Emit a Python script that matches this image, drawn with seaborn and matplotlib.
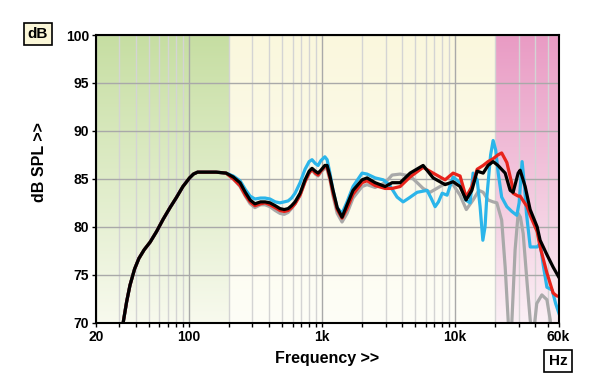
import numpy as np
import pandas as pd
import matplotlib
matplotlib.use("Agg")
import matplotlib.pyplot as plt
import seaborn as sns
from matplotlib.ticker import FixedLocator, NullFormatter

# -----------------------------
# Data
# -----------------------------
# bass roll-off is the same for all four curves
shared_freq = [30, 32, 34, 36, 39, 42, 46, 51, 57, 64, 72, 80, 90, 101, 108, 116, 130, 160, 190]
shared_spl = [68.3, 70.0, 72.2, 73.9, 75.6, 76.7, 77.6, 78.4, 79.5, 80.8, 82.0, 83.0, 84.2,
              85.1, 85.5, 85.7, 85.7, 85.7, 85.6]

black_freq = [215, 242, 265, 288, 313, 345, 373, 406, 445, 483, 520, 556, 590, 627, 684, 745,
              800, 841, 890, 934, 980, 1050, 1092, 1150, 1210, 1300, 1414, 1542, 1710, 2000,
              2180, 2506, 2980, 3364, 3866, 4592, 5752, 6840, 8410, 9660, 10900, 12100, 13370,
              14650, 16260, 17700, 19320, 21000, 23800, 25940, 27300, 29800, 30840, 33640,
              36660, 41400, 43580, 49000, 54560, 61660]
black_spl = [85.2, 84.6, 83.6, 82.8, 82.4, 82.6, 82.6, 82.5, 82.2, 81.9, 81.8, 81.9, 82.2, 82.6,
             83.5, 84.9, 85.8, 86.1, 85.8, 85.6, 85.9, 86.4, 86.4, 85.2, 83.8, 82.0, 81.0, 82.3,
             83.8, 84.9, 85.1, 84.6, 84.2, 84.6, 84.6, 85.6, 86.4, 85.1, 84.4, 84.7, 84.2, 82.8,
             83.8, 85.8, 85.6, 86.4, 86.8, 86.4, 85.6, 83.8, 83.6, 85.6, 85.9, 84.2, 81.8, 80.0,
             78.6, 77.1, 75.8, 74.5]

red_freq = [215, 242, 265, 288, 313, 345, 373, 406, 445, 483, 520, 556, 590, 627, 684, 745,
            800, 841, 890, 934, 980, 1050, 1092, 1150, 1210, 1300, 1414, 1542, 1710, 2000,
            2180, 2506, 2980, 3364, 3866, 4592, 5752, 6840, 8410, 9660, 10900, 12100, 13370,
            14650, 16260, 17700, 19320, 21000, 22400, 24500, 26700, 27300, 29800, 30840,
            33640, 34800, 36660, 41400, 43580, 49000, 54560, 58000, 61660]
red_spl = [85.0, 84.3, 83.3, 82.6, 82.2, 82.4, 82.5, 82.3, 82.0, 81.7, 81.6, 81.7, 82.0, 82.4,
           83.3, 84.7, 85.6, 86.0, 85.6, 85.4, 85.8, 86.3, 86.2, 85.0, 83.5, 81.8, 80.9, 81.9,
           83.4, 84.6, 84.8, 84.3, 84.0, 84.0, 84.2, 85.2, 86.2, 85.6, 84.9, 85.6, 85.3, 83.1,
           84.2, 86.0, 86.4, 86.8, 87.1, 87.5, 87.7, 86.7, 84.5, 83.5, 83.2, 83.2, 82.4, 82.1,
           81.2, 79.5, 77.9, 75.2, 73.1, 72.8, 72.7]

gray_freq = [215, 242, 265, 288, 313, 345, 373, 406, 445, 483, 520, 556, 590, 627, 684, 745,
             800, 841, 890, 934, 980, 1050, 1092, 1150, 1210, 1300, 1414, 1542, 1710, 2000,
             2180, 2506, 2980, 3364, 3866, 4592, 5190, 5752, 6490, 7710, 8410, 9660, 10900,
             12150, 13660, 15100, 16260, 17700, 19320, 20600, 22400, 23800, 25060, 25900,
             26700, 28260, 29800, 31000, 32500, 34800, 36700, 38000, 39000, 41100, 44900,
             49000, 51900, 54000]
gray_spl = [85.0, 84.2, 83.2, 82.4, 82.0, 82.3, 82.3, 82.1, 81.7, 81.4, 81.3, 81.5, 81.9, 82.4,
            83.3, 84.7, 85.6, 85.9, 85.5, 85.3, 85.7, 86.1, 86.0, 84.8, 83.2, 81.4, 80.5, 81.4,
            83.0, 84.2, 84.4, 84.1, 84.6, 85.4, 85.5, 85.3, 84.6, 84.0, 83.6, 84.2, 84.5, 84.4,
            83.3, 81.8, 82.8, 83.8, 83.6, 82.8, 82.6, 82.5, 80.7, 75.8, 70.3, 66.5, 70.0, 77.6,
            81.4, 81.0, 79.3, 74.1, 70.3, 68.5, 69.0, 72.0, 72.9, 72.4, 70.3, 67.0]

blue_freq = [215, 242, 265, 288, 313, 345, 373, 406, 445, 483, 520, 556, 590, 627, 684, 745,
             800, 841, 890, 934, 980, 1050, 1092, 1150, 1210, 1300, 1414, 1542, 1710, 2000,
             2180, 2506, 2880, 3200, 3666, 4070, 4500, 5190, 6160, 6600, 7080, 7500, 8000,
             8710, 9660, 10900, 12000, 12970, 13660, 14650, 15420, 16170, 16800, 17300, 18500,
             19320, 20200, 21100, 22400, 24500, 26700, 29100, 30300, 31900, 33300, 34400,
             36700, 41400, 43600, 46000, 49000, 53700, 57000, 61660]
blue_spl = [85.3, 84.8, 83.9, 83.2, 82.9, 83.0, 83.0, 82.9, 82.6, 82.5, 82.6, 82.7, 83.0, 83.5,
            84.6, 86.0, 86.8, 87.0, 86.6, 86.4, 86.9, 87.3, 87.0, 85.5, 83.8, 82.0, 81.4, 82.6,
            84.2, 85.6, 85.5, 85.1, 84.9, 84.4, 83.1, 82.6, 83.0, 83.6, 83.8, 83.0, 82.1, 82.6,
            83.5, 83.3, 85.2, 84.6, 82.8, 82.5, 85.6, 84.9, 82.1, 78.6, 80.0, 83.0, 87.5, 89.0,
            88.0, 85.6, 83.1, 82.1, 81.6, 81.2, 82.5, 86.8, 84.2, 81.4, 77.9, 77.9, 78.3, 76.0,
            73.7, 73.4, 72.0, 70.6]

curve_names = ["gray", "blue", "red", "black"]
curve_colors = ["#a9a9a9", "#2bb5ea", "#e8231b", "#000000"]

x_ticks = [20, 100, 1000, 10000, 60000]
x_tick_labels = ["20", "100", "1k", "10k", "60k"]
y_ticks = [70, 75, 80, 85, 90, 95, 100]

curves = {
    "gray": (gray_freq, gray_spl),
    "blue": (blue_freq, blue_spl),
    "red": (red_freq, red_spl),
    "black": (black_freq, black_spl),
}
df = pd.concat([
    pd.DataFrame({"freq": shared_freq + f, "spl": shared_spl + s, "curve": name})
    for name, (f, s) in curves.items()
])

# -----------------------------
# Theme
# -----------------------------
sns.set_theme(style="white")
plt.rcParams["font.family"] = ["Liberation Sans", "DejaVu Sans"]
plt.rcParams["text.color"] = "black"

fig = plt.figure(figsize=(6, 3.89), dpi=100)
ax = fig.add_axes([0.16, 0.1704, 0.771, 0.7396])
ax.set_xscale("log")

# -----------------------------
# Background bands (gradients)
# -----------------------------
def vgrad(top, bottom, n=200):
    t = np.linspace(0, 1, n)[:, None]
    top = np.array(top) / 255.0
    bottom = np.array(bottom) / 255.0
    return (top * (1 - t) + bottom * t)[:, None, :]

f_lo = np.log10(200 / 20) / np.log10(60000 / 20)
f_hi = np.log10(20000 / 20) / np.log10(60000 / 20)
ax.imshow(vgrad((198, 222, 162), (248, 250, 238)), extent=[0, f_lo, 0, 1],
          transform=ax.transAxes, aspect="auto", zorder=0)
ax.imshow(vgrad((250, 247, 221), (254, 254, 247)), extent=[f_lo, f_hi, 0, 1],
          transform=ax.transAxes, aspect="auto", zorder=0)
ax.imshow(vgrad((233, 155, 196), (251, 240, 245)), extent=[f_hi, 1, 0, 1],
          transform=ax.transAxes, aspect="auto", zorder=0)

# -----------------------------
# Curves
# -----------------------------
sns.lineplot(
    data=df, x="freq", y="spl", hue="curve",
    hue_order=curve_names, palette=curve_colors,
    sort=False, estimator=None, lw=2.3, legend=False, ax=ax
)

ax.set_xlim(20, 60000)
ax.set_ylim(70, 100)

ax.xaxis.set_major_locator(FixedLocator(x_ticks))
ax.set_xticklabels(x_tick_labels)
minor = [m * d for d in (10, 100, 1000, 10000) for m in range(2, 10)]
minor = [v for v in minor if 20 < v < 60000 and v not in x_ticks]
ax.xaxis.set_minor_locator(FixedLocator(minor))
ax.xaxis.set_minor_formatter(NullFormatter())
ax.set_yticks(y_ticks)

ax.set_axisbelow(True)
ax.grid(which="major", color="#a9a9a9", lw=1.0)
ax.grid(which="minor", axis="x", color="#d4d4d4", lw=1.0)

ax.tick_params(axis="both", which="both", direction="out", length=3, width=1,
               color="black", labelsize=10, pad=2, bottom=True, left=True)
for lab in ax.get_xticklabels() + ax.get_yticklabels():
    lab.set_fontweight("bold")
    lab.set_color("black")

for sp in ax.spines.values():
    sp.set_color("black")
    sp.set_linewidth(1.5)

ax.set_xlabel("")
ax.set_ylabel("")

# -----------------------------
# Labels and boxes
# -----------------------------
fig.text(327 / 600, 1 - 358 / 389, "Frequency >>", ha="center", va="center",
         fontsize=11.5, fontweight="bold", color="black")
fig.text(39 / 600, 1 - 162 / 389, "dB SPL >>", ha="center", va="center",
         rotation=90, fontsize=11.5, fontweight="bold", color="black")
fig.text(38 / 600, 1 - 34 / 389, "dB", ha="center", va="center", fontsize=11,
         fontweight="bold", color="black",
         bbox=dict(boxstyle="square,pad=0.28", fc="#fbf7d8", ec="black", lw=1.2))
fig.text(558 / 600, 1 - 361 / 389, "Hz", ha="center", va="center", fontsize=11,
         fontweight="bold", color="black",
         bbox=dict(boxstyle="square,pad=0.28", fc="white", ec="black", lw=1.2))

fig.savefig("out.png", dpi=100)
